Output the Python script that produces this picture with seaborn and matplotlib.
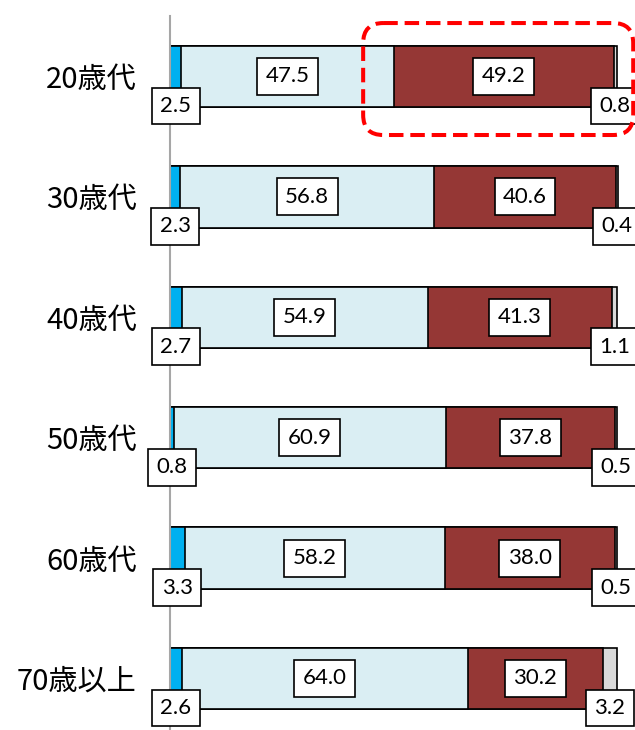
import numpy as np
import pandas as pd
import matplotlib
matplotlib.use("Agg")
import matplotlib.pyplot as plt
from matplotlib.patches import FancyBboxPatch
import seaborn as sns

# 年代別の回答割合（%）
categories = ["20歳代", "30歳代", "40歳代", "50歳代", "60歳代", "70歳以上"]
seg1 = [2.5, 2.3, 2.7, 0.8, 3.3, 2.6]
seg2 = [47.5, 56.8, 54.9, 60.9, 58.2, 64.0]
seg3 = [49.2, 40.6, 41.3, 37.8, 38.0, 30.2]
seg4 = [0.8, 0.4, 1.1, 0.5, 0.5, 3.2]

segments = [seg1, seg2, seg3, seg4]
colors = ["#00B0F0", "#DAEEF3", "#953735", "#D9D9D9"]

sns.set_style("white")
plt.rcParams["font.family"] = ["Noto Sans CJK JP", "DejaVu Sans"]
plt.rcParams["text.color"] = "black"
plt.rcParams["ytick.color"] = "black"
plt.rcParams["ytick.labelcolor"] = "black"

fig = plt.figure(figsize=(6.35, 7.3), dpi=100)
ax = fig.add_axes([170 / 635, 0, 465 / 635, 714 / 730])

vals = np.array(segments)           # shape (4, n)
cum = np.cumsum(vals, axis=0)       # cumulative right edges
left = cum - vals                   # cumulative left edges

bar_h = 0.51

# stacked bars: draw the longest cumulative layer first
for k in range(len(segments) - 1, -1, -1):
    df = pd.DataFrame({"cat": categories, "val": cum[k]})
    sns.barplot(data=df, x="val", y="cat", orient="h", color=colors[k],
                saturation=1, edgecolor="black", linewidth=1.2,
                width=bar_h, errorbar=None, ax=ax)

ax.set_xlim(0, 104)
ax.set_ylim(5.428, -0.5025)

box = dict(boxstyle="square,pad=0.38", facecolor="white",
           edgecolor="black", linewidth=1.2)
lbl_font = dict(fontsize=16, family=["Lato", "DejaVu Sans"], color="black")

for i in range(len(categories)):
    for k in range(len(segments)):
        v = vals[k, i]
        x = left[k, i] + v / 2
        if k in (1, 2):
            y = i
        else:
            y = i + bar_h / 2 - 0.01
        ax.text(x, y, f"{v:.1f}", ha="center", va="center",
                bbox=box, clip_on=False, zorder=5, **lbl_font)

# 20歳代の濃色部分を囲む破線枠
px_x = 4.47   # pixels per x unit
px_y = 120.4  # pixels per y unit
x0 = left[2, 0] - 6.8
x1 = 103.6
y0 = 0 - 0.444
y1 = 0 + 0.486
frame = FancyBboxPatch((x0, y0), x1 - x0, y1 - y0,
                       boxstyle="round,pad=0,rounding_size=4.5",
                       mutation_aspect=px_x / px_y,
                       facecolor="none", edgecolor="#FF0000",
                       linewidth=2.9, linestyle=(0, (3.6, 1.7)),
                       clip_on=False, zorder=6)
ax.add_patch(frame)

ax.set_xlabel("")
ax.set_ylabel("")
ax.set_xticks([])
ax.tick_params(axis="y", length=0, pad=24, labelsize=21, labelcolor="black")
for lab in ax.get_yticklabels():
    lab.set_fontfamily(["Noto Sans CJK JP", "DejaVu Sans"])

for s in ["top", "right", "bottom"]:
    ax.spines[s].set_visible(False)
ax.spines["left"].set_color("#A6A6A6")
ax.spines["left"].set_linewidth(1.5)
ax.set_facecolor("none")

fig.savefig("out.png", dpi=100)
